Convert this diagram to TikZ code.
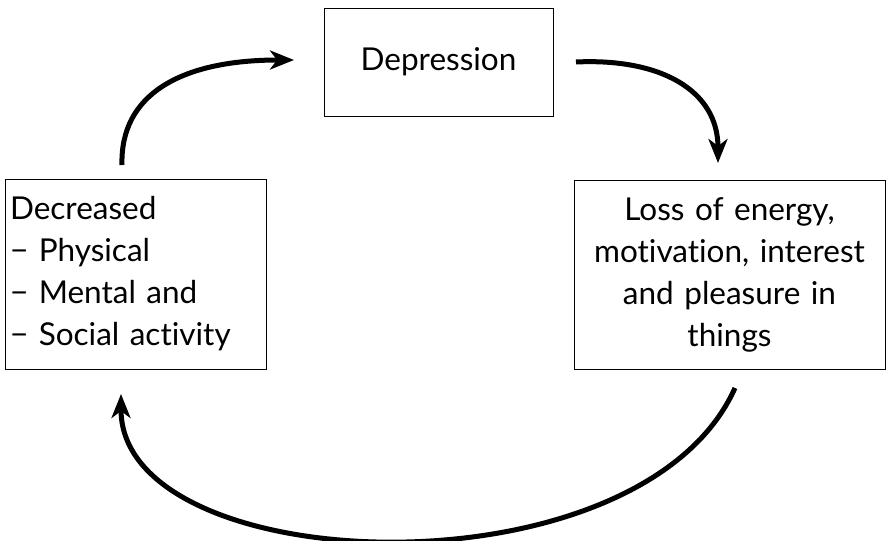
\documentclass[tikz,border=0pt]{standalone}
\usepackage{fontspec}
\setmainfont{Lato}[Ligatures=NoCommon]
\usetikzlibrary{arrows.meta}
\begin{document}
\begin{tikzpicture}[x=1pt,y=-1pt,
  box/.style={draw, line width=1pt, inner sep=0pt, font=\fontsize{31.5}{42}\selectfont},
  flow/.style={line width=5pt, -{Stealth[length=24pt,width=19pt,inset=7pt]}}]
  \useasboundingbox (0,0) rectangle (887,541);
  \node[box, minimum width=229pt, minimum height=108pt] (dep) at (438.5,62) {Depression};
  \node[box, minimum width=261pt, minimum height=190pt, text width=251pt, align=left] (dec) at (135.5,274)
    {Decreased\\− Physical\\− Mental and\\− Social activity};
  \node[box, minimum width=311pt, minimum height=189pt, text width=305pt, align=center] (loss) at (729.5,274.5)
    {Loss of energy,\\motivation, interest\\and pleasure in\\things};
  \coordinate (a1s) at (122,165);
  \coordinate (a1e) at (294,60);
  \coordinate (a2s) at (576,62);
  \coordinate (a2e) at (718,163);
  \coordinate (a3s) at (735,388);
  \coordinate (a3e) at (121,394);
  \draw[flow] (a1s) .. controls (120,95) and (180,60) .. (a1e);
  \draw[flow] (a2s) .. controls (660,58) and (718,90) .. (a2e);
  \draw[flow] (a3s) .. controls (640,600) and (121,580) .. (a3e);
\end{tikzpicture}
\end{document}
